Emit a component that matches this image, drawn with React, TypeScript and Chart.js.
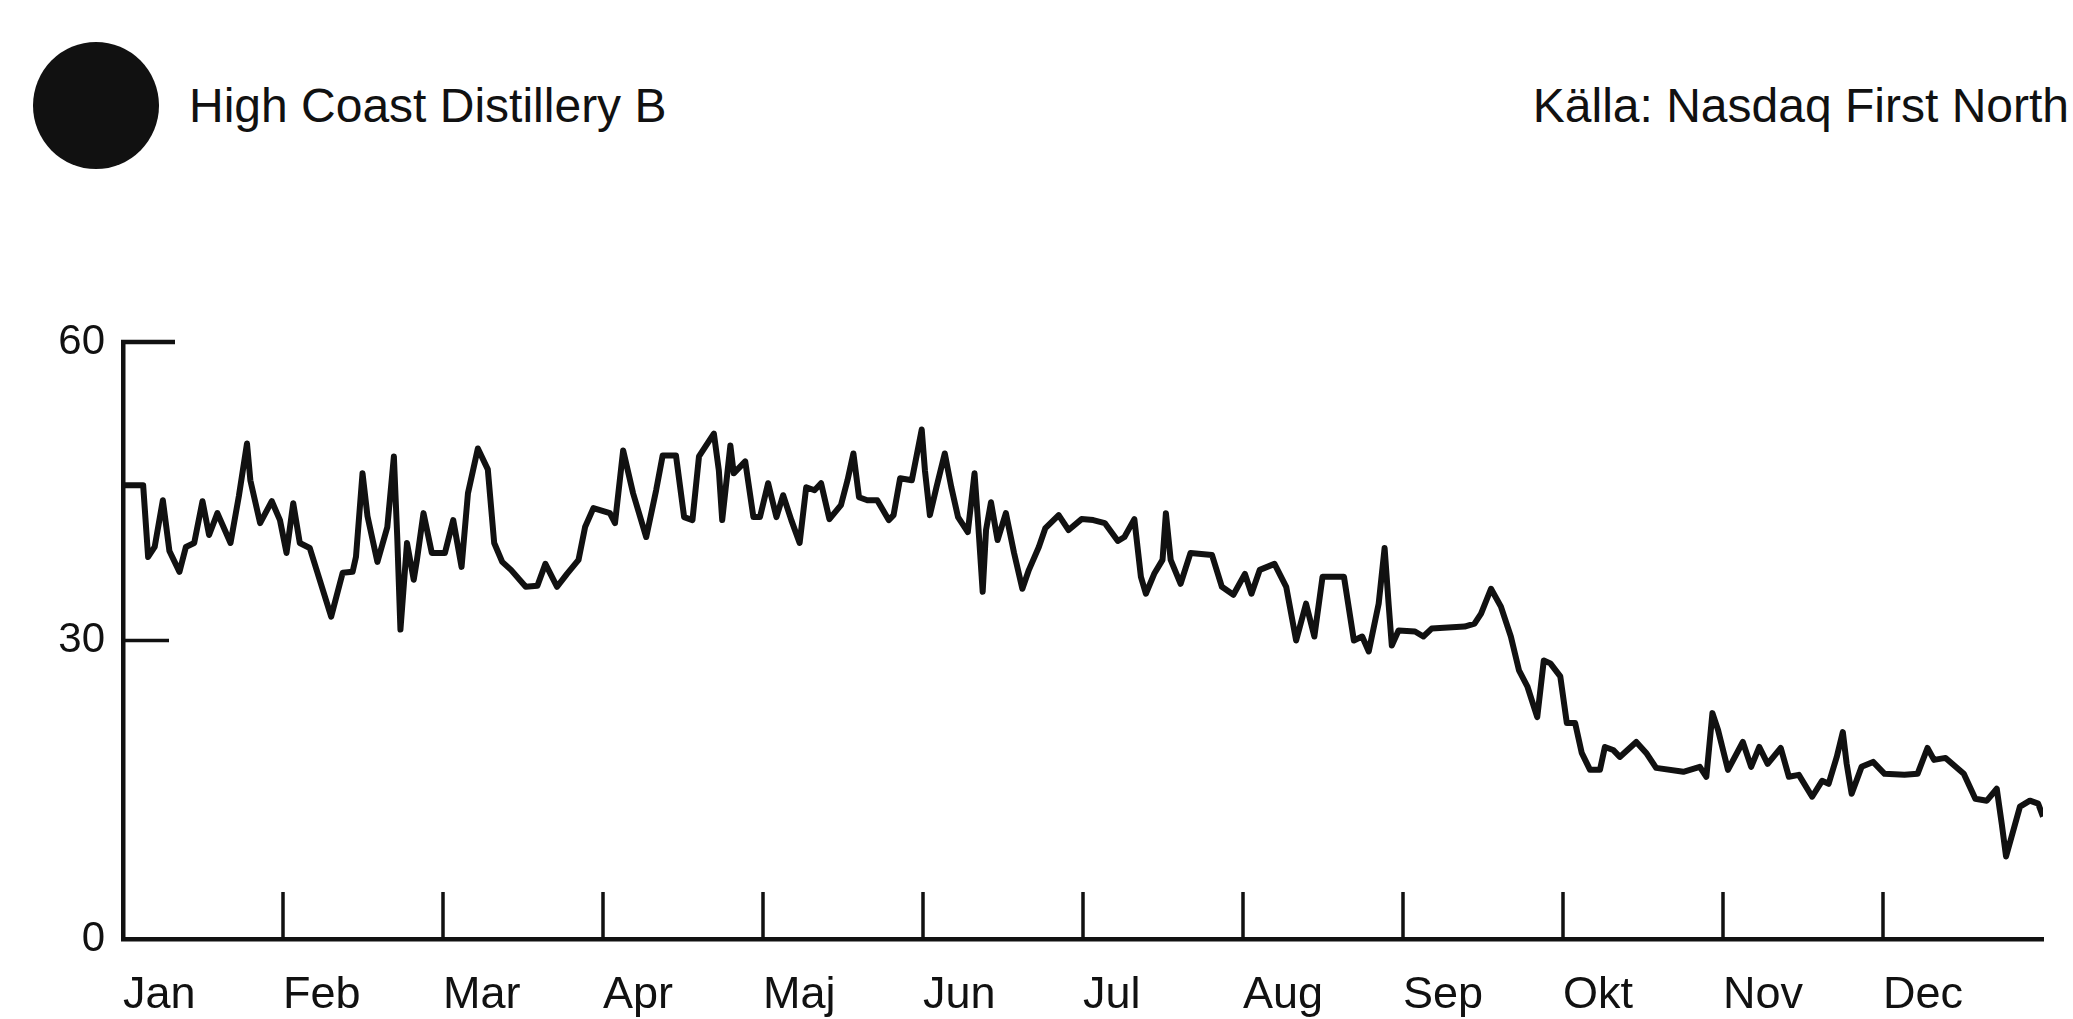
import React, { useEffect, useRef } from "react";
import { Chart, registerables } from "chart.js";

Chart.register(...registerables);

// ---- Data ----
const titleText = "High Coast Distillery B";
const sourceText = "Källa: Nasdaq First North";
const monthLabels = ["Jan", "Feb", "Mar", "Apr", "Maj", "Jun", "Jul", "Aug", "Sep", "Okt", "Nov", "Dec"];
const monthTicks = [0, 1, 2, 3, 4, 5, 6, 7, 8, 9, 10, 11, 12];
const yTicks = [0, 30, 60];

// position on the time axis, in months from 1 Jan
const xPositions = [
  0.0, 0.126, 0.157, 0.198, 0.249, 0.29, 0.353, 0.393, 0.445, 0.497, 0.538, 0.59, 0.672, 0.724, 0.775, 0.796, 0.857, 0.93, 0.981,
  1.022, 1.064, 1.105, 1.167, 1.301, 1.373, 1.435, 1.456, 1.497, 1.528, 1.59, 1.652, 1.693, 1.714, 1.734, 1.775, 1.817, 1.837, 1.878, 1.93,
  2.012, 2.064, 2.116, 2.156, 2.218, 2.28, 2.32, 2.37, 2.425, 2.517, 2.59, 2.64, 2.713, 2.775, 2.847, 2.888, 2.94,
  3.043, 3.075, 3.126, 3.188, 3.27, 3.332, 3.373, 3.456, 3.507, 3.559, 3.6, 3.693, 3.724, 3.745, 3.796, 3.817, 3.889, 3.94, 3.981,
  4.032, 4.084, 4.126, 4.177, 4.229, 4.27, 4.322, 4.363, 4.415, 4.487, 4.528, 4.565, 4.6, 4.652, 4.714, 4.786, 4.816, 4.857, 4.93, 4.992,
  5.012, 5.043, 5.084, 5.136, 5.177, 5.219, 5.28, 5.322, 5.342, 5.373, 5.394, 5.425, 5.466, 5.518, 5.569, 5.621, 5.662, 5.724, 5.765, 5.848, 5.91, 5.991,
  6.064, 6.136, 6.218, 6.259, 6.321, 6.362, 6.393, 6.445, 6.497, 6.518, 6.548, 6.61, 6.672, 6.806, 6.868, 6.94,
  7.012, 7.053, 7.105, 7.197, 7.27, 7.332, 7.394, 7.446, 7.497, 7.631, 7.693, 7.745, 7.786, 7.848, 7.885, 7.91, 7.93, 7.972,
  8.075, 8.127, 8.179, 8.385, 8.447, 8.488, 8.55, 8.612, 8.674, 8.725, 8.777, 8.839, 8.88, 8.921, 8.983,
  9.024, 9.076, 9.117, 9.169, 9.231, 9.262, 9.313, 9.355, 9.458, 9.52, 9.582, 9.752, 9.855, 9.896, 9.934, 9.969,
  10.031, 10.124, 10.176, 10.227, 10.279, 10.361, 10.412, 10.474, 10.557, 10.619, 10.66, 10.711, 10.749, 10.773, 10.804, 10.866, 10.938,
  11.01, 11.134, 11.216, 11.278, 11.319, 11.391, 11.505, 11.577, 11.649, 11.711, 11.742, 11.769, 11.804, 11.856, 11.918, 11.97, 12.0,
];

// share price (SEK)
const closePrices = [
  45.6, 45.6, 38.4, 39.4, 44.1, 39.0, 36.9, 39.4, 39.8, 44.0, 40.6, 42.8, 39.8, 44.5, 49.8, 46.1, 41.8, 44.0, 42.1,
  38.8, 43.8, 39.8, 39.3, 32.4, 36.8, 36.9, 38.4, 46.8, 42.5, 37.9, 41.4, 48.5, 40.4, 31.1, 39.8, 36.1, 38.1, 42.8, 38.8,
  38.8, 42.1, 37.4, 44.8, 49.3, 47.2, 39.8, 37.9, 37.1, 35.4, 35.5, 37.7, 35.4, 36.7, 38.1, 41.4, 43.3,
  42.8, 41.8, 49.1, 44.8, 40.4, 45.1, 48.6, 48.6, 42.4, 42.1, 48.5, 50.8, 47.1, 42.1, 49.6, 46.8, 48.0, 42.4, 42.4,
  45.8, 42.4, 44.6, 42.1, 39.8, 45.4, 45.1, 45.8, 42.2, 43.6, 46.1, 48.8, 44.4, 44.1, 44.1, 42.1, 42.6, 46.3, 46.1, 51.2,
  47.1, 42.6, 45.4, 48.8, 45.4, 42.4, 40.9, 46.8, 42.4, 34.9, 41.1, 43.9, 40.1, 42.8, 38.8, 35.2, 37.1, 39.4, 41.3, 42.6, 41.1, 42.2,
  42.1, 41.8, 40.0, 40.4, 42.2, 36.4, 34.7, 36.7, 38.1, 42.8, 38.1, 35.7, 38.8, 38.6, 35.4, 34.6,
  36.7, 34.7, 37.1, 37.7, 35.4, 30.0, 33.7, 30.4, 36.4, 36.4, 30.0, 30.4, 28.9, 33.7, 39.3, 33.7, 29.5, 31.0,
  30.9, 30.4, 31.2, 31.4, 31.7, 32.7, 35.2, 33.4, 30.4, 27.0, 25.4, 22.3, 28.0, 27.7, 26.4,
  21.7, 21.7, 18.7, 17.0, 17.0, 19.3, 19.0, 18.3, 19.8, 18.7, 17.2, 16.8, 17.3, 16.3, 22.7, 21.0,
  17.0, 19.8, 17.3, 19.3, 17.6, 19.2, 16.3, 16.5, 14.3, 15.9, 15.6, 18.3, 20.8, 17.6, 14.6, 17.3, 17.8,
  16.6, 16.5, 16.6, 19.2, 18.0, 18.2, 16.6, 14.1, 13.9, 15.1, 11.6, 8.3, 10.3, 13.3, 13.9, 13.6, 12.3,
];

const INK = "#111111";
const FONT = "'Liberation Sans', Arial, Helvetica, sans-serif";

const innerTicks = {
  id: "innerTicks",
  afterDraw(chart: any) {
    const { ctx, scales } = chart;
    const xs = scales.x;
    const ys = scales.y;
    const base = ys.getPixelForValue(0);
    const left = xs.getPixelForValue(0);
    ctx.save();
    ctx.strokeStyle = INK;
    ctx.lineCap = "butt";
    // month ticks pointing up from the x axis
    ctx.lineWidth = 3.5;
    monthTicks.slice(1, 12).forEach((m) => {
      const px = xs.getPixelForValue(m);
      ctx.beginPath();
      ctx.moveTo(px, base);
      ctx.lineTo(px, base - 47);
      ctx.stroke();
    });
    // value ticks pointing right from the y axis
    yTicks.slice(1).forEach((v, i) => {
      const py = ys.getPixelForValue(v);
      const isTop = i === yTicks.length - 2;
      ctx.lineWidth = isTop ? 4.5 : 3.5;
      ctx.beginPath();
      ctx.moveTo(left - 2, py);
      ctx.lineTo(left + (isTop ? 52 : 46), py);
      ctx.stroke();
    });
    ctx.restore();
  },
};

export default function App() {
  const canvasRef = useRef<HTMLCanvasElement | null>(null);

  useEffect(() => {
    const canvas = canvasRef.current;
    if (!canvas) return;
    const chart = new Chart(canvas, {
      type: "line",
      data: {
        datasets: [
          {
            data: xPositions.map((x, i) => ({ x, y: closePrices[i] })),
            borderColor: INK,
            borderWidth: 6,
            pointRadius: 0,
            tension: 0,
            fill: false,
            borderJoinStyle: "round",
          },
        ],
      },
      options: {
        animation: false,
        responsive: false,
        maintainAspectRatio: false,
        layout: { padding: { top: 342, right: 10, left: 0, bottom: 0 } },
        plugins: { legend: { display: false }, tooltip: { enabled: false }, title: { display: false } },
        scales: {
          x: {
            type: "linear",
            min: 0,
            max: 12,
            grid: { display: false, drawTicks: false },
            border: { display: true, color: INK, width: 4.5 },
            afterBuildTicks: (scale: any) => {
              scale.ticks = monthTicks.map((v) => ({ value: v }));
            },
            afterFit: (scale: any) => {
              scale.height = 80;
            },
            ticks: {
              autoSkip: false,
              maxRotation: 0,
              align: "start",
              padding: 30,
              color: INK,
              font: { family: FONT, size: 45 },
              callback: (v: any) => monthLabels[v] ?? "",
            },
          },
          y: {
            min: 0,
            max: 60,
            grid: { display: false, drawTicks: false },
            border: { display: true, color: INK, width: 4.5 },
            afterBuildTicks: (scale: any) => {
              scale.ticks = yTicks.map((v) => ({ value: v }));
            },
            afterFit: (scale: any) => {
              scale.width = 123;
            },
            ticks: {
              padding: 18,
              color: INK,
              font: { family: FONT, size: 42 },
            },
          },
        },
      },
      plugins: [innerTicks],
    } as any);
    return () => chart.destroy();
  }, []);

  return (
    <div style={{ position: "absolute", left: 0, top: 0, width: 2073, height: 1019, background: "#fff", overflow: "hidden" }}>
      <div
        style={{
          position: "absolute",
          left: 33,
          top: 42,
          width: 126,
          height: 127,
          borderRadius: "50%",
          background: INK,
        }}
      />
      <div
        style={{
          position: "absolute",
          left: 189,
          top: 82,
          fontFamily: FONT,
          fontSize: 48,
          lineHeight: "48px",
          color: INK,
          whiteSpace: "nowrap",
        }}
      >
        {titleText}
      </div>
      <div
        style={{
          position: "absolute",
          right: 4,
          top: 82,
          fontFamily: FONT,
          fontSize: 48,
          lineHeight: "48px",
          color: INK,
          whiteSpace: "nowrap",
        }}
      >
        {sourceText}
      </div>
      <canvas ref={canvasRef} width={2073} height={1019} style={{ position: "absolute", left: 0, top: 0 }} />
    </div>
  );
}
